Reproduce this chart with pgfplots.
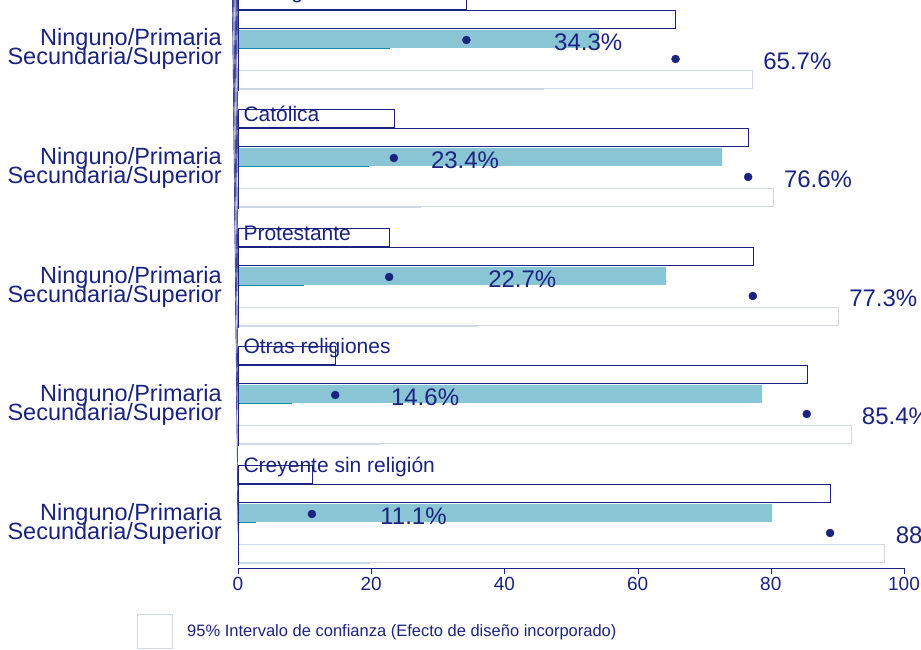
\documentclass[border=0pt]{standalone}
\usepackage{pgfplots}
\pgfplotsset{compat=1.18}
\usepackage{fontspec}
\setmainfont{Liberation Sans}
\definecolor{navy}{HTML}{1A2380}
\definecolor{dark}{HTML}{138CA8}
\definecolor{light}{HTML}{89C5D4}
\definecolor{cibox}{HTML}{D0D8E8}
\tikzset{
 vlbl/.style={anchor=west,text=navy,font=\fontsize{24}{24}\selectfont,inner sep=0pt,xshift=11pt},
 glbl/.style={anchor=south west,text=navy,font=\fontsize{21}{21}\selectfont,inner sep=0pt},
 ylbl/.style={anchor=east,text=navy,font=\fontsize{23.5}{23.5}\selectfont,inner sep=0pt,xshift=-16pt},
 tk/.style={navy}}
\begin{document}
\begin{tikzpicture}[x=1pt,y=1pt]
\path[use as bounding box] (0,0) rectangle (921,650);
\clip (0,0) rectangle (921,650);
\begin{axis}[at={(238pt,82pt)},anchor=south west,scale only axis,
 width=666pt,height=568pt,xmin=0,xmax=100,ymin=-568,ymax=0,
 axis y line=none, axis x line*=bottom, clip=false,
 x axis line style={navy,-},
 xtick={0,20,40,60,80,100}, tick style={navy}, xtick align=outside,
 major tick length=6pt,
 ticklabel style={font=\fontsize{19}{19}\selectfont,text=navy},
 /pgf/number format/assume math mode=true,
 xbar, bar width=18]
\addplot[fill=white,draw=cibox] coordinates {(45.8,-40) (27.3,-158) (35.9,-277) (21.3,-395) (19.7,-514)};
\addplot[fill=white,draw=cibox] coordinates {(77.2,-59) (80.3,-177) (90.1,-296) (92.0,-414) (97.1,-533)};
\addplot[fill=dark,draw=none] coordinates {(22.8,-40) (19.7,-158) (9.9,-277) (8.1,-395) (2.7,-514)};
\addplot[fill=light,draw=none] coordinates {(54.2,-59) (72.7,-177) (64.3,-296) (78.7,-414) (80.2,-533)};
\addplot[only marks,mark=*,mark size=4pt,navy,xbar=false] coordinates {(34.3,-40) (23.4,-158) (22.7,-277) (14.6,-395) (11.1,-514) (65.7,-59) (76.6,-177) (77.3,-296) (85.4,-414) (88.9,-533)};
\foreach \u/\y/\t in {45.8/-42/34.3,27.3/-160/23.4,35.9/-279/22.7,21.3/-397/14.6,19.7/-516/11.1,77.2/-61/65.7,80.3/-179/76.6,90.1/-298/77.3,92.0/-416/85.4,97.1/-535/88.9}{
 \edef\tmp{\noexpand\node[vlbl] at (axis cs:\u,\y) {\t\noexpand\%};}\tmp
}
\foreach \c/\ti in {-49/Evangélica,-167.5/Católica,-286.5/Protestante,-404.5/Otras religiones,-523.5/Creyente sin religión}{
 \edef\tmp{%
 \noexpand\draw[tk] (axis cs:0,\c+44) -- (axis cs:0,\c-42);
 \noexpand\node[glbl] at (axis cs:0.8,\c+46) {\ti};
 \noexpand\draw[tk] (axis cs:0,\c+9.5) -- ++(-6pt,0);
 \noexpand\draw[tk] (axis cs:0,\c-9.5) -- ++(-6pt,0);
 \noexpand\node[ylbl] at (axis cs:0,\c+9.5) {Ninguno/Primaria};
 \noexpand\node[ylbl] at (axis cs:0,\c-9.5) {Secundaria/Superior};}\tmp
}
\end{axis}
\draw[cibox,fill=white] (137,2) rectangle (172,36);
\node[anchor=west,text=navy,font=\fontsize{16.5}{16.5}\selectfont,inner sep=0pt] at (187,18) {95\% Intervalo de confianza (Efecto de diseño incorporado)};
\end{tikzpicture}
\end{document}
